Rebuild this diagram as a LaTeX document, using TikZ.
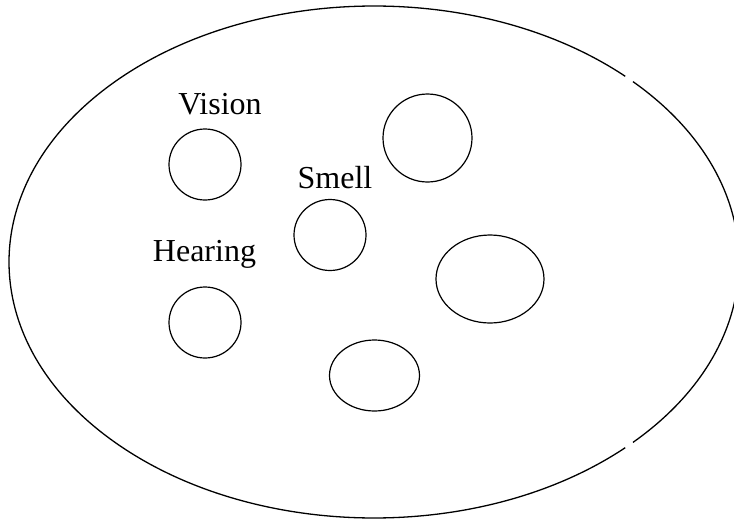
\documentclass[tikz,border=0pt]{standalone}
\usepackage{fontspec}
\setmainfont{Liberation Serif}
\usetikzlibrary{shapes.geometric}
\tikzset{
  organ/.style={draw, ellipse, line width=1.2pt, inner sep=0pt},
  lbl/.style={anchor=base, inner sep=0pt, font=\fontsize{32}{38}\selectfont},
  outline/.style={line width=1.3pt}
}
\begin{document}
\begin{tikzpicture}[x=1pt,y=1pt]
\useasboundingbox (0,0) rectangle (734,-520);
% outer ellipse with two small gaps on the right
\coordinate (c) at (374,-262);
\draw[outline] (c) ++(46.5:365pt and 256pt)
  arc[start angle=46.5, end angle=313.5, x radius=365pt, y radius=256pt];
\draw[outline] (c) ++(-44.8:365pt and 256pt)
  arc[start angle=-44.8, end angle=44.8, x radius=365pt, y radius=256pt];
% inner ellipses
\node[organ, minimum width=72pt, minimum height=71pt] (vision) at (205,-164.5) {};
\node[organ, minimum width=89pt, minimum height=88pt] (topright) at (427.5,-138) {};
\node[organ, minimum width=72pt, minimum height=71pt] (smell) at (330,-235) {};
\node[organ, minimum width=108pt, minimum height=88pt] (right) at (490,-279) {};
\node[organ, minimum width=72pt, minimum height=71pt] (hearing) at (205,-322.5) {};
\node[organ, minimum width=90pt, minimum height=71pt] (bottom) at (374.5,-375.5) {};
% labels
\node[lbl] (tvision) at (220,-114) {Vision};
\node[lbl] (tsmell) at (335,-188) {Smell};
\node[lbl] (thearing) at (204.5,-261.5) {Hearing};
\end{tikzpicture}
\end{document}
